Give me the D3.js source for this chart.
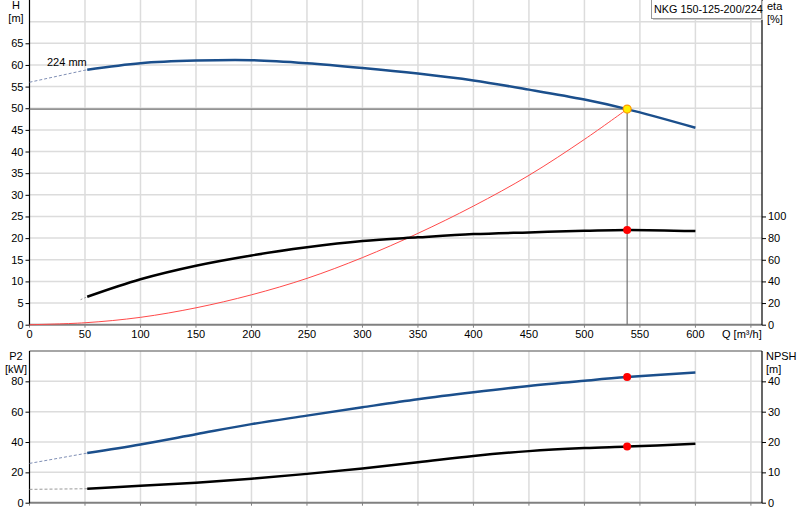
<!DOCTYPE html>
<html>
<head>
<meta charset="utf-8">
<script src="https://cdn.jsdelivr.net/npm/d3@7"></script>
<style>
  body { margin: 0; background: #fff; }
  svg { display: block; font-family: "Liberation Sans", Arial, sans-serif; font-size: 11px; }
</style>
</head>
<body>
<svg width="800" height="520"></svg>
<script>
const svg = d3.select("svg");

// pump curve data (Q in m3/h)
const qCurve = [52, 100, 150, 200, 250, 300, 350, 400, 450, 500, 538.5, 600];
const headVals = [58.9, 60.4, 61.0, 61.1, 60.4, 59.3, 58.0, 56.4, 54.3, 52.0, 49.8, 45.5];
const etaVals = [25.8, 42.0, 54.5, 64.0, 71.5, 77.3, 80.7, 83.7, 85.3, 86.7, 87.6, 86.5];
const p2Vals = [32.7, 38.4, 45.1, 51.8, 57.4, 62.9, 68.2, 72.8, 77.0, 80.4, 82.8, 85.8];
const npshVals = [4.6, 5.6, 6.6, 7.9, 9.5, 11.3, 13.3, 15.4, 17.0, 18.0, 18.5, 19.4];

// dashed extensions below minimum flow
const headExtQ = [0, 52], headExt = [56.0, 58.9];
const etaExtQ = [46, 52], etaExt = [23.1, 25.8];
const p2ExtQ = [0, 52], p2Ext = [25.9, 32.7];
const npshExtQ = [0, 52], npshExt = [4.4, 4.6];

// system curve
const qSys = [0, 50, 100, 150, 200, 250, 300, 350, 400, 450, 500, 538.5];
const hSys = [0, 0.45, 1.7, 3.9, 6.9, 10.7, 15.5, 21.1, 27.4, 34.5, 42.8, 49.8];

// duty point
const duty = { q: 538.5, h: 49.8, eta: 87.6, p2: 82.8, npsh: 18.5 };

const qTicks = [0, 50, 100, 150, 200, 250, 300, 350, 400, 450, 500, 550, 600];
const qGrid = [50, 100, 150, 200, 250, 300, 350, 400, 450, 500, 550, 600, 650];
const hTicks = d3.range(0, 66, 5);
const hGrid = d3.range(5, 71, 5);
const etaTicks = [0, 20, 40, 60, 80, 100];
const p2Ticks = [0, 20, 40, 60, 80];
const npshTicks = [0, 10, 20, 30, 40];

const left = 29.5, right = 762;
const x = d3.scaleLinear().domain([0, 660]).range([left, right]);
const yH = d3.scaleLinear().domain([0, 75]).range([324.7, 0]);
const yEta = d3.scaleLinear().domain([0, 300]).range([324.7, 0]);
const yP = d3.scaleLinear().domain([0, 100]).range([502.7, 351]);
const yN = d3.scaleLinear().domain([0, 50]).range([502.7, 351]);

const gridColor = "#dcdcdc";
const blue = "#1b4f8c";

function grid(yScale, yVals, top, bottom) {
  const g = svg.append("g");
  g.selectAll(".v").data(qGrid).enter().append("line")
    .attr("x1", d => x(d)).attr("x2", d => x(d))
    .attr("y1", top).attr("y2", bottom)
    .attr("stroke", gridColor).attr("stroke-width", 1.5);
  g.selectAll(".h").data(yVals).enter().append("line")
    .attr("x1", left).attr("x2", right)
    .attr("y1", d => yScale(d)).attr("y2", d => yScale(d))
    .attr("stroke", gridColor).attr("stroke-width", 1.5);
}
grid(yH, hGrid, 0, 324.7);
grid(yP, [20, 40, 60, 80], 351, 502.7);

// bottom panel top border
svg.append("line").attr("x1", left).attr("x2", right).attr("y1", 351).attr("y2", 351)
  .attr("stroke", "#888").attr("stroke-width", 1.5);

// x axis lines (grey)
[324.7, 502.7].forEach(y0 => {
  svg.append("line").attr("x1", left).attr("x2", right).attr("y1", y0).attr("y2", y0)
    .attr("stroke", "#808080").attr("stroke-width", 2);
  svg.append("g").selectAll("line").data(qGrid.concat([0])).enter().append("line")
    .attr("x1", d => x(d)).attr("x2", d => x(d))
    .attr("y1", y0).attr("y2", y0 + 3).attr("stroke", "#808080");
});

// x tick labels (top panel)
svg.append("g").selectAll("text").data(qTicks).enter().append("text")
  .attr("x", d => x(d)).attr("y", 338).attr("text-anchor", "middle").text(d => d);
svg.append("text").attr("x", 722).attr("y", 338).text("Q [m³/h]");

// vertical axes
function yAxis(scale, ticks, xPos, side, y1, y2) {
  const ax = side === "left" ? d3.axisLeft(scale) : d3.axisRight(scale);
  const g = svg.append("g").attr("transform", `translate(${xPos},0)`)
    .call(ax.tickValues(ticks).tickSize(4).tickPadding(2).tickSizeOuter(0));
  g.select(".domain").remove();
  g.selectAll("text").attr("font-size", 11).attr("fill", "#000")
    .attr("font-family", "Liberation Sans, Arial, sans-serif");
  g.selectAll("line").attr("stroke", "#000");
  svg.append("line").attr("x1", xPos).attr("x2", xPos).attr("y1", y1).attr("y2", y2)
    .attr("stroke", "#000").attr("stroke-width", 1.2);
}
yAxis(yH, hTicks, left, "left", 0, 325);
yAxis(yEta, etaTicks, right, "right", 0, 325);
yAxis(yP, p2Ticks, left, "left", 351, 503);
yAxis(yN, npshTicks, right, "right", 351, 503);

// axis titles
function title(lines, xPos, yPos, anchor) {
  lines.forEach((t, i) => svg.append("text").attr("x", xPos).attr("y", yPos + i * 12.5)
    .attr("text-anchor", anchor).text(t));
}
title(["H", "[m]"], 16, 9, "middle");
title(["eta", "[%]"], 767, 10, "start");
title(["P2", "[kW]"], 16, 360, "middle");
title(["NPSH", "[m]"], 766, 360, "start");

// curves
const pts = (qs, vs) => qs.map((q, i) => [q, vs[i]]);
function curve(data, yScale, color, width, dash) {
  svg.append("path").datum(data)
    .attr("d", d3.line().x(d => x(d[0])).y(d => yScale(d[1])).curve(d3.curveCatmullRom.alpha(0.5)))
    .attr("fill", "none").attr("stroke", color).attr("stroke-width", width)
    .attr("stroke-dasharray", dash || null);
}

// duty lines
svg.append("line").attr("x1", left).attr("x2", x(duty.q)).attr("y1", yH(duty.h)).attr("y2", yH(duty.h))
  .attr("stroke", "#707070").attr("stroke-width", 1.2);
svg.append("line").attr("x1", x(duty.q)).attr("x2", x(duty.q)).attr("y1", yH(duty.h)).attr("y2", 324.7)
  .attr("stroke", "#707070").attr("stroke-width", 1.2);

curve(pts(qSys, hSys), yH, "#ff4a4a", 1);
curve(pts(headExtQ, headExt), yH, "#7f8fb5", 1, "3,2");
curve(pts(qCurve, headVals), yH, blue, 2.5);
curve(pts(etaExtQ, etaExt), yEta, "#999", 1, "2,2");
curve(pts(qCurve, etaVals), yEta, "#000", 2.5);
curve(pts(p2ExtQ, p2Ext), yP, "#7f8fb5", 1, "3,2");
curve(pts(qCurve, p2Vals), yP, blue, 2.5);
curve(pts(npshExtQ, npshExt), yN, "#999", 1, "3,2");
curve(pts(qCurve, npshVals), yN, "#000", 2.5);

svg.append("text").attr("x", 47).attr("y", 66).text("224 mm");

// duty markers
[[yEta, duty.eta], [yP, duty.p2], [yN, duty.npsh]].forEach(([s, v]) => {
  svg.append("circle").attr("cx", x(duty.q)).attr("cy", s(v)).attr("r", 4).attr("fill", "#ff0000");
});
svg.append("circle").attr("cx", x(duty.q)).attr("cy", yH(duty.h)).attr("r", 4)
  .attr("fill", "#ffee00").attr("stroke", "#ff9900").attr("stroke-width", 1.2);

// legend box
svg.append("rect").attr("x", 653).attr("y", 1).attr("width", 110).attr("height", 19)
  .attr("fill", "#ccc");
svg.append("rect").attr("x", 651.5).attr("y", -0.5).attr("width", 110).attr("height", 19)
  .attr("fill", "#fff").attr("stroke", "#999");
svg.append("text").attr("x", 654).attr("y", 13).attr("font-size", 10.8).text("NKG 150-125-200/224");
</script>
</body>
</html>
